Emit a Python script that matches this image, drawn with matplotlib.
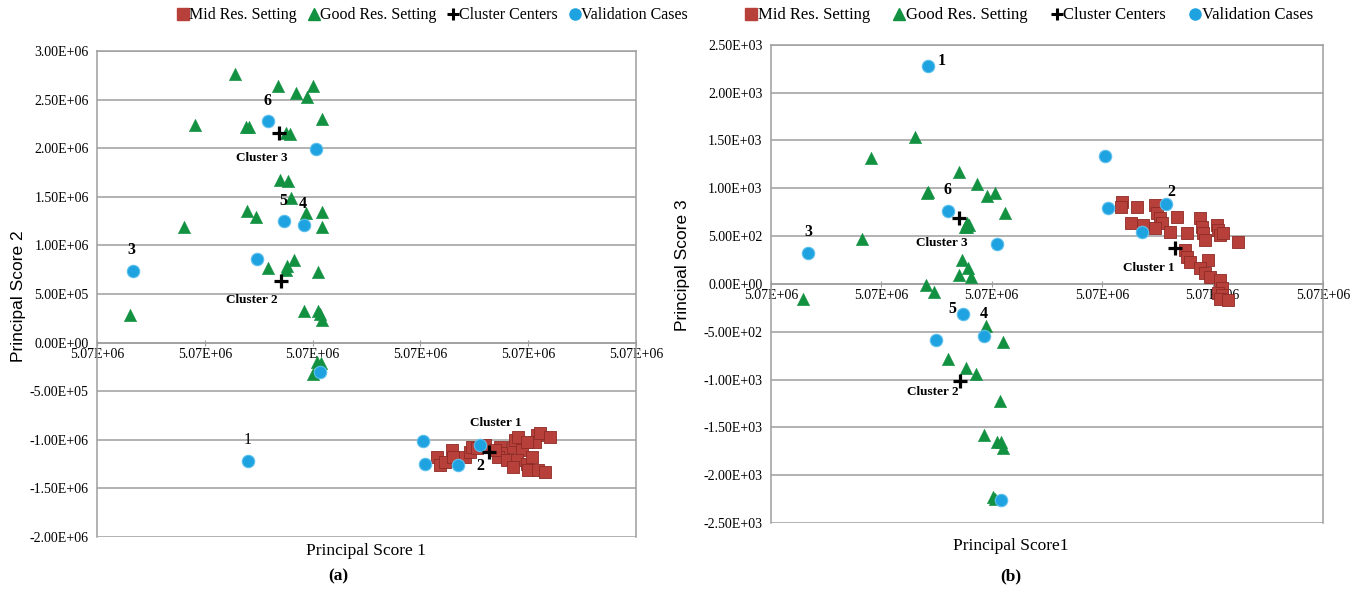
import matplotlib
matplotlib.use("Agg")
import matplotlib.pyplot as plt
from matplotlib.lines import Line2D

plt.rcParams["font.family"] = ["Liberation Serif", "DejaVu Serif"]

# ---------------------------------------------------------------------------
# Principal score 1 is shown as an offset from 5.07E+06 (all ticks read 5.07E+06)
x_tick_pos = [0, 1, 2, 3, 4, 5]
x_tick_labels = ["5.07E+06"] * 6

# ---- Panel (a): score 1 vs score 2 --------------------------------------
a_y_ticks = [3.0e6, 2.5e6, 2.0e6, 1.5e6, 1.0e6, 5.0e5, 0.0, -5.0e5, -1.0e6, -1.5e6, -2.0e6]
a_y_labels = ["3.00E+06", "2.50E+06", "2.00E+06", "1.50E+06", "1.00E+06", "5.00E+05",
              "0.00E+00", "-5.00E+05", "-1.00E+06", "-1.50E+06", "-2.00E+06"]

a_mid_x = [3.151, 3.182, 3.228, 3.290, 3.305, 3.414, 3.460, 3.476, 3.522, 3.600, 3.738,
           3.769, 3.723, 3.800, 3.862, 3.877, 3.908, 3.939, 3.893, 3.862, 3.986, 4.032,
           4.001, 4.079, 4.063, 4.110, 4.202, 4.094, 4.156, 3.986, 3.692]
a_mid_y = [-1.175e6, -1.260e6, -1.226e6, -1.106e6, -1.175e6, -1.175e6, -1.123e6, -1.072e6,
           -1.089e6, -1.055e6, -1.072e6, -1.140e6, -1.175e6, -1.209e6, -1.072e6, -1.003e6,
           -0.969e6, -1.106e6, -1.209e6, -1.278e6, -1.244e6, -1.175e6, -1.312e6, -0.952e6,
           -1.020e6, -0.935e6, -0.969e6, -1.312e6, -1.330e6, -1.020e6, -1.106e6]

a_good_x = [1.280, 1.679, 2.004, 1.846, 1.948, 0.909, 1.382, 1.410, 2.087, 1.753, 1.790,
            1.698, 1.772, 1.800, 1.392, 1.475, 1.939, 2.087, 0.807, 2.087, 1.827, 1.763,
            1.586, 1.753, 2.050, 0.306, 1.920, 2.050, 2.069, 2.087, 2.041, 2.078, 2.004]
a_good_y = [2.762e6, 2.639e6, 2.639e6, 2.567e6, 2.526e6, 2.238e6, 2.217e6, 2.217e6,
            2.299e6, 2.155e6, 2.145e6, 1.672e6, 1.661e6, 1.486e6, 1.352e6, 1.291e6,
            1.332e6, 1.342e6, 1.188e6, 1.188e6, 0.849e6, 0.787e6, 0.767e6, 0.746e6,
            0.726e6, 0.283e6, 0.324e6, 0.324e6, 0.293e6, 0.232e6, -0.200e6, -0.210e6,
            -0.324e6]

a_center_x = [3.640, 1.707, 1.688]
a_center_y = [-1.128e6, 0.633e6, 2.155e6]

a_valid_x = [1.586, 2.032, 1.735, 1.920, 1.484, 0.334, 2.069, 1.401, 3.021, 3.043, 3.352, 3.553]
a_valid_y = [2.279e6, 1.991e6, 1.250e6, 1.209e6, 0.859e6, 0.736e6, -0.303e6, -1.219e6,
             -1.013e6, -1.253e6, -1.260e6, -1.050e6]

a_case_labels = ["6", "5", "4", "3", "1", "2"]
a_case_x = [1.586, 1.725, 1.911, 0.315, 1.401, 3.553]
a_case_y = [2.485e6, 1.456e6, 1.425e6, 0.952e6, -1.003e6, -1.271e6]
a_case_bold = [True, True, True, True, False, True]

a_cluster_labels = ["Cluster 1", "Cluster 2", "Cluster 3"]
a_cluster_x = [3.701, 1.438, 1.531]
a_cluster_y = [-0.828e6, 0.437e6, 1.898e6]

# ---- Panel (b): score 1 vs score 3 --------------------------------------
b_y_ticks = [2500, 2000, 1500, 1000, 500, 0, -500, -1000, -1500, -2000, -2500]
b_y_labels = ["2.50E+03", "2.00E+03", "1.50E+03", "1.00E+03", "5.00E+02", "0.00E+00",
              "-5.00E+02", "-1.00E+03", "-1.50E+03", "-2.00E+03", "-2.50E+03"]

b_mid_x = [3.177, 3.167, 3.312, 3.478, 3.258, 3.372, 3.494, 3.524, 3.539, 3.478, 3.680,
           3.614, 3.765, 3.886, 3.901, 3.916, 3.931, 4.037, 4.052, 4.067, 4.097, 4.233,
           3.750, 3.765, 3.795, 3.961, 3.886, 3.931, 3.976, 4.067, 4.082, 4.052, 4.082,
           4.067, 4.140]
b_mid_y = [860, 808, 808, 826, 634, 617, 739, 687, 634, 582, 704, 547, 530, 687, 599,
           530, 460, 617, 564, 512, 530, 442, 355, 285, 233, 251, 164, 112, 76, 42, -45,
           -97, -115, -157, -167]

b_good_x = [1.304, 0.910, 1.703, 1.869, 1.419, 1.410, 1.959, 2.029, 2.120, 1.772, 1.778,
            1.760, 1.790, 0.824, 1.727, 1.787, 1.706, 1.809, 1.404, 1.479, 0.290, 1.947,
            2.104, 1.600, 1.766, 1.854, 2.074, 1.932, 2.044, 2.080, 2.104, 2.010, 2.029]
b_good_y = [1539, 1318, 1173, 1045, 964, 948, 920, 948, 739, 634, 599, 590, 620, 470,
            251, 164, 94, 76, -7, -81, -157, -441, -603, -790, -881, -944, -1226, -1578,
            -1656, -1649, -1720, -2230, -2248]

b_center_x = [3.660, 1.712, 1.700]
b_center_y = [373, -1015, 693]

b_valid_x = [1.419, 3.030, 3.055, 3.578, 1.600, 3.363, 2.050, 0.335, 1.742, 1.929, 1.495, 2.080]
b_valid_y = [2278, 1337, 797, 836, 766, 540, 418, 324, -310, -547, -592, -2265]

b_case_labels = ["1", "6", "3", "2", "5", "4"]
b_case_x = [1.546, 1.600, 0.335, 3.630, 1.646, 1.929]
b_case_y = [2333, 982, 543, 964, -265, -317]

b_cluster_labels = ["Cluster 1", "Cluster 2", "Cluster 3"]
b_cluster_x = [3.424, 1.470, 1.552]
b_cluster_y = [170, -1132, 432]

series_names = ["Mid Res. Setting", "Good Res. Setting", "Cluster Centers", "Validation Cases"]

# ---------------------------------------------------------------------------
SANS = "Liberation Sans"
RED = "#B8403A"
RED_EDGE = "#8E2B26"
GREEN = "#129141"
BLUE = "#1FA3E0"
BLUE_EDGE = "#5DC0EE"
GRID = "#9E9E9E"

fig = plt.figure(figsize=(13.64, 5.92), dpi=100)
fig.patch.set_facecolor("white")


def style_axes(ax, yticks, ylabels):
    ax.set_xlim(0, 5)
    ax.set_ylim(min(yticks), max(yticks))
    ax.set_yticks(yticks)
    ax.set_yticklabels(ylabels)
    ax.set_xticks(x_tick_pos)
    ax.set_xticklabels(x_tick_labels)
    ax.yaxis.grid(True, color=GRID, linewidth=1.1)
    ax.xaxis.grid(False)
    ax.set_axisbelow(True)
    for side in ("top", "right", "left", "bottom"):
        ax.spines[side].set_color(GRID)
        ax.spines[side].set_linewidth(1.1)
    # horizontal axis crosses the vertical one at zero
    ax.spines["bottom"].set_position(("data", 0))
    ax.tick_params(axis="x", length=4, color=GRID, pad=2, direction="inout", labelsize=10)
    ax.tick_params(axis="y", length=0, pad=6, labelsize=10)


def draw_series(ax, mx, my, gx, gy, cx, cy, vx, vy):
    ax.scatter(mx, my, marker="s", s=72, color=RED, edgecolors=RED_EDGE, linewidths=0.6, zorder=3)
    ax.scatter(gx, gy, marker="^", s=78, color=GREEN, edgecolors=GREEN, linewidths=0.4, zorder=3)
    ax.scatter(vx, vy, marker="o", s=80, color=BLUE, edgecolors=BLUE_EDGE, linewidths=0.8, zorder=4)
    ax.scatter(cx, cy, marker="+", s=100, color="black", linewidths=2.3, zorder=5)


def add_legend(cx, size, spacing):
    handles = [
        Line2D([], [], marker="s", linestyle="none", color=RED, markersize=8),
        Line2D([], [], marker="^", linestyle="none", color=GREEN, markersize=8),
        Line2D([], [], marker="+", linestyle="none", color="black", markersize=8, markeredgewidth=2.2),
        Line2D([], [], marker="o", linestyle="none", color=BLUE, markersize=8),
    ]
    fig.legend(handles, series_names, loc="center", bbox_to_anchor=(cx, 0.974), ncol=4,
               frameon=False, handlelength=0.55, handletextpad=0.1, columnspacing=spacing,
               borderaxespad=0, prop={"size": size})


# ---- (a) ----
ax_a = fig.add_axes([0.0711, 0.0929, 0.3952, 0.8210])
style_axes(ax_a, a_y_ticks, a_y_labels)
draw_series(ax_a, a_mid_x, a_mid_y, a_good_x, a_good_y, a_center_x, a_center_y, a_valid_x, a_valid_y)
for t, x, y, b in zip(a_case_labels, a_case_x, a_case_y, a_case_bold):
    ax_a.text(x, y, t, ha="center", va="center", fontsize=11.5,
              fontweight="bold" if b else "normal", zorder=6)
for t, x, y in zip(a_cluster_labels, a_cluster_x, a_cluster_y):
    ax_a.text(x, y, t, ha="center", va="center", fontsize=9.5, fontweight="bold", zorder=6)
add_legend(0.3175, 11.5, 0.8)
fig.text(0.0132, 0.50, "Principal Score 2", rotation=90, ha="center", va="center",
         fontfamily=SANS, fontsize=12.5)
fig.text(0.268, 0.069, "Principal Score 1", ha="center", va="center", fontsize=12.5)
fig.text(0.248, 0.027, "(a)", ha="center", va="center", fontsize=12.5, fontweight="bold")

# ---- (b) ----
ax_b = fig.add_axes([0.5652, 0.1166, 0.4047, 0.8078])
style_axes(ax_b, b_y_ticks, b_y_labels)
draw_series(ax_b, b_mid_x, b_mid_y, b_good_x, b_good_y, b_center_x, b_center_y, b_valid_x, b_valid_y)
for t, x, y in zip(b_case_labels, b_case_x, b_case_y):
    ax_b.text(x, y, t, ha="center", va="center", fontsize=11.5, fontweight="bold", zorder=6)
for t, x, y in zip(b_cluster_labels, b_cluster_x, b_cluster_y):
    ax_b.text(x, y, t, ha="center", va="center", fontsize=9.5, fontweight="bold", zorder=6)
add_legend(0.755, 12, 1.5)
fig.text(0.5, 0.552, "Principal Score 3", rotation=90, ha="center", va="center",
         fontfamily=SANS, fontsize=12.5)
fig.text(0.741, 0.078, "Principal Score1", ha="center", va="center", fontsize=12.5)
fig.text(0.741, 0.027, "(b)", ha="center", va="center", fontsize=12.5, fontweight="bold")

fig.savefig("out.png", dpi=100, facecolor="white")
